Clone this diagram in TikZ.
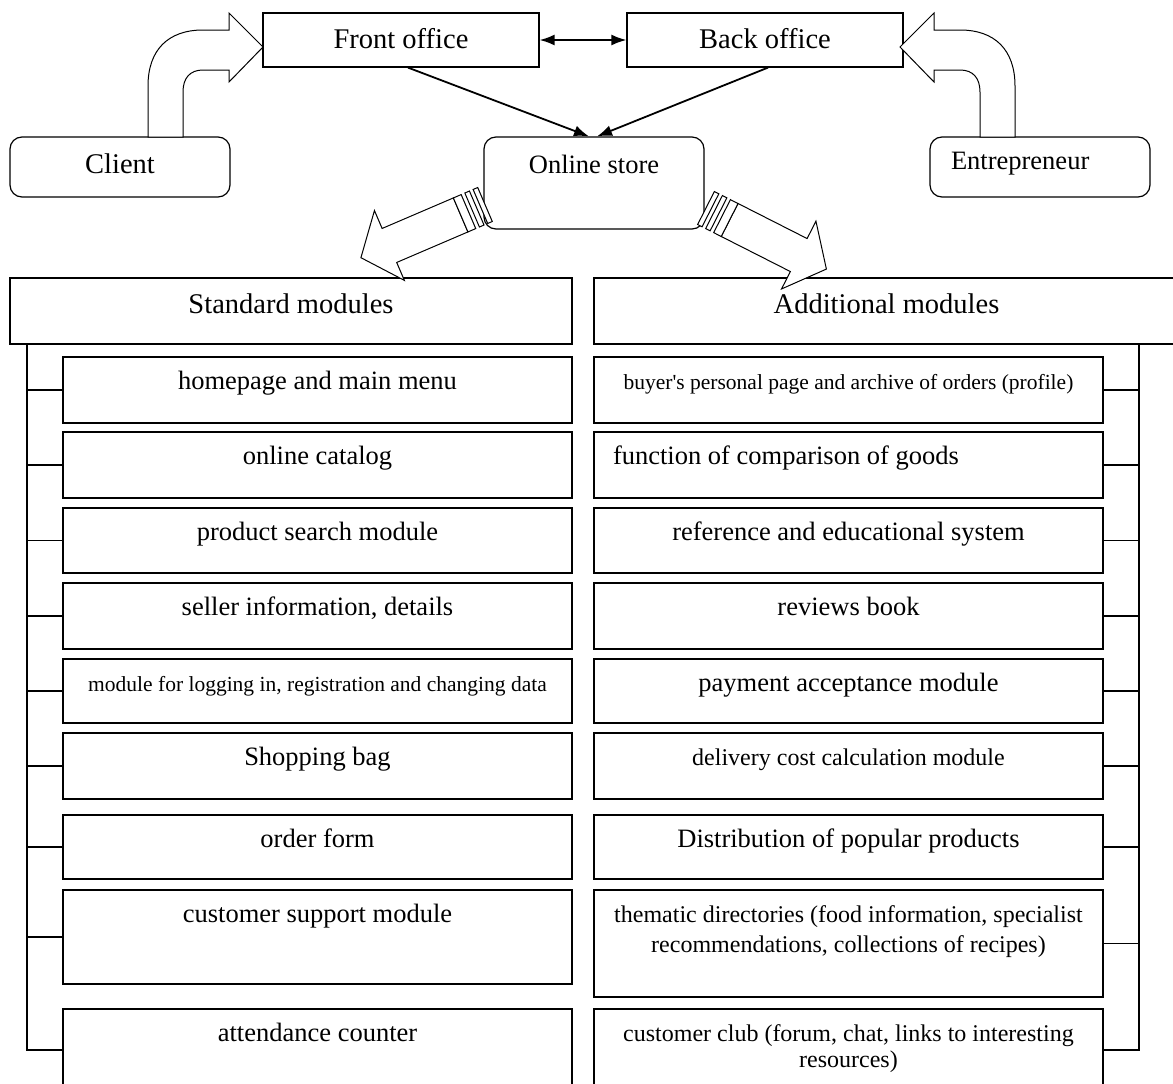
\documentclass[tikz,border=0pt]{standalone}
\usepackage{fontspec}
\setmainfont{Liberation Serif}
\usetikzlibrary{arrows.meta,positioning}

\newcommand{\bigtxt}{\fontsize{28.5}{32}\selectfont}
\newcommand{\midtxt}{\fontsize{26.5}{30}\selectfont}
\newcommand{\smltxt}{\fontsize{24}{30}\selectfont}
\newcommand{\tintxt}{\fontsize{21.5}{26}\selectfont}

\tikzset{
  topbox/.style={draw,line width=1.2pt,inner sep=0pt,minimum width=276pt,minimum height=54pt,
    font=\bigtxt,text height=19pt,text depth=3pt},
  roundbox/.style={draw,line width=1.2pt,rounded corners=12pt,inner sep=0pt,minimum width=220pt,
    font=\midtxt,text height=19pt},
  headbox/.style={draw,line width=1.2pt,inner sep=0pt,outer sep=0pt,minimum height=66pt,
    font=\bigtxt,text height=19pt,text depth=15pt},
  modbox/.style={draw,line width=1.2pt,inner sep=0pt,outer sep=0pt,font=\midtxt,
    execute at begin node={\begin{minipage}[t][#1][t]{509pt}\centering\rule{0pt}{32pt}},
    execute at end node={\end{minipage}}},
  modbox/.default=66pt,
  link/.style={line width=1.8pt,-{Latex[length=15pt,width=11pt]}},
  bus/.style={line width=1.2pt},
  blockarrow/.style={draw,line width=1pt,fill=white},
}

\begin{document}
\begin{tikzpicture}[x=1pt,y=-1pt]
\useasboundingbox (0,0) rectangle (1173,1084);

% top row
\node[topbox] (front) at (401,40) {Front office};
\node[topbox] (back) at (765,40) {Back office};
\node[roundbox,minimum height=60pt,text depth=7pt,font=\bigtxt] (client) at (120,167) {Client};
\node[roundbox,minimum height=92pt,text depth=39pt] (store) at (594,183) {Online store};
\node[roundbox,minimum height=60pt,text depth=15pt,text width=178pt,inner xsep=21pt,align=left] (entre) at (1040,167) {Entrepreneur};

% module groups
\node[headbox,minimum width=562pt] (std) at (291,311) {Standard modules};
\node[headbox,minimum width=585pt] (add) at (886.5,311) {Additional modules};

\node[modbox,below=13pt of std.south east,anchor=north east] (s1) {homepage and main menu};
\node[modbox,below=9pt of s1] (s2) {online catalog};
\node[modbox=65pt,below=10pt of s2] (s3) {product search module};
\node[modbox,below=10pt of s3] (s4) {seller information, details};
\node[modbox=64pt,below=10pt of s4,font=\tintxt] (s5) {module for logging in, registration and changing data};
\node[modbox,below=10pt of s5] (s6) {Shopping bag};
\node[modbox=64pt,below=16pt of s6] (s7) {order form};
\node[modbox=94pt,below=11pt of s7] (s8) {customer support module};
\node[modbox=82pt,below=25pt of s8] (s9) {attendance counter};

\node[modbox,below=13pt of add.south west,anchor=north west,font=\tintxt] (a1) {buyer\textquotesingle s personal page and archive of orders (profile)};
\node[modbox,below=9pt of a1] (a2) {\raggedright\hspace*{19pt}function of comparison of goods\par};
\node[modbox=65pt,below=10pt of a2] (a3) {reference and educational system};
\node[modbox,below=10pt of a3] (a4) {reviews book};
\node[modbox=64pt,below=10pt of a4] (a5) {payment acceptance module};
\node[modbox,below=10pt of a5,font=\smltxt] (a6) {delivery cost calculation module};
\node[modbox=64pt,below=16pt of a6] (a7) {Distribution of popular products};
\node[modbox=107pt,below=11pt of a7,font=\smltxt] (a8) {thematic directories (food information, specialist recommendations, collections of recipes)};
\node[modbox=82pt,below=12pt of a8,font=\fontsize{24}{26}\selectfont] (a9) {customer club (forum, chat, links to interesting resources)};

% brackets
\coordinate (lbus) at ([xshift=17pt]std.south west);
\coordinate (rbus) at ([xshift=36pt]a1.east |- add.south);
\draw[bus] (lbus) |- (s9.west);
\draw[bus] (rbus) |- (a9.east);
\foreach \i in {1,...,8} {
  \draw[bus] (s\i.west) -- (s\i.west -| lbus);
  \draw[bus] (a\i.east) -- (a\i.east -| rbus);
}

% connectors
\draw[link,{Latex[length=15pt,width=11pt]}-{Latex[length=15pt,width=11pt]}] (front) -- (back);
\draw[link] ([xshift=7pt]front.south) -- ([xshift=-5pt]store.north);
\draw[link] ([xshift=3pt]back.south) -- ([xshift=3pt]store.north);

% bent arrows
\draw[blockarrow] (148,137) -- (148,86) .. controls (148,50) and (168,30) .. (203,30) -- (229,30)
  -- (229,13) -- (263,47) -- (229,82) -- (229,70) -- (203,70) .. controls (190,70) and (183,78) .. (183,92)
  -- (183,137) -- cycle;
\draw[blockarrow] (1015,137) -- (1015,86) .. controls (1015,50) and (995,30) .. (960,30) -- (934,30)
  -- (934,13) -- (900,47) -- (934,82) -- (934,70) -- (960,70) .. controls (973,70) and (980,78) .. (980,92)
  -- (980,137) -- cycle;

% striped arrows
\begin{scope}[shift={(485,204.5)},rotate=203.2]
\draw[blockarrow] (0,-18.5) rectangle (5,18.5);
\draw[blockarrow] (9,-18.5) rectangle (14,18.5);
\draw[blockarrow] (26.5,-18.5) -- (104,-18.5) -- (104,-38) -- (135,0) -- (104,38) -- (104,18.5) -- (26.5,18.5) -- cycle;
\draw[blockarrow] (18,-18.5) rectangle (26.5,18.5);
\end{scope}
\begin{scope}[shift={(706,208)},rotate=-26.9]
\draw[blockarrow] (0,-18.5) rectangle (5,18.5);
\draw[blockarrow] (9,-18.5) rectangle (14,18.5);
\draw[blockarrow] (26.5,-18.5) -- (104,-18.5) -- (104,-38) -- (135,0) -- (104,38) -- (104,18.5) -- (26.5,18.5) -- cycle;
\draw[blockarrow] (18,-18.5) rectangle (26.5,18.5);
\end{scope}
\end{tikzpicture}
\end{document}
